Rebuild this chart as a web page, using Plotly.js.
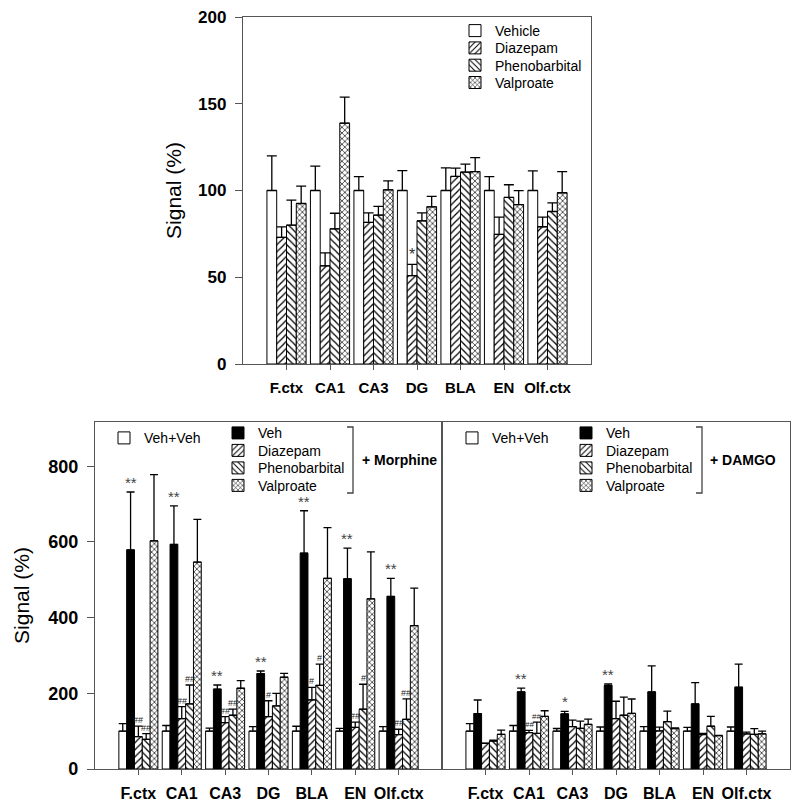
<!DOCTYPE html>
<html>
<head>
<meta charset="utf-8">
<script src="https://cdn.plot.ly/plotly-3.0.1.min.js"></script>
<style>html,body{margin:0;padding:0;background:#fff;}#chart{width:800px;height:806px;}</style>
</head>
<body>
<div id="chart"></div>
<script>
// ---------- data ----------
const categories = ['F.ctx', 'CA1', 'CA3', 'DG', 'BLA', 'EN', 'Olf.ctx'];

// Top panel (drug alone)
const topVehicle = [100, 100, 100, 100, 100, 100, 100];
const topVehicleErr = [20, 14, 8, 11.5, 13, 8, 11.3];
const topDiazepam = [73, 56.6, 81.6, 50.9, 108.1, 74.7, 79.1];
const topDiazepamErr = [6, 7.5, 5.5, 6.5, 4.8, 10, 5.5];
const topPheno = [80, 77.9, 85.8, 82.5, 110.6, 96, 87.9];
const topPhenoErr = [14.5, 9, 5, 4.6, 4.6, 7.3, 5];
const topValp = [92.5, 138.8, 100.4, 90.6, 110.9, 91.9, 98.7];
const topValpErr = [10, 15, 5.2, 6, 8, 8, 12.2];
const topDiazepamSig = ['', '', '', '*', '', '', ''];

// Bottom-left panel (+ Morphine)
const mVehVeh = [100, 100, 100, 100, 100, 100, 100];
const mVehVehErr = [20, 15, 8, 12, 13, 7.5, 12];
const mVeh = [579, 593.5, 211, 252, 570.5, 502.6, 456];
const mVehErr = [153, 102, 11, 7, 112, 81, 48];
const mDiazepam = [85.5, 133, 122.6, 138.4, 182.5, 110, 91];
const mDiazepamErr = [28, 32, 16, 42, 33, 14, 14];
const mPheno = [78.5, 172, 142, 166.7, 221, 158, 131.4];
const mPhenoErr = [15, 50, 16, 33, 56, 66, 54];
const mValp = [603, 546.7, 213.4, 242.5, 504, 449.7, 379];
const mValpErr = [175, 113, 20, 10, 134, 124, 99];
const mVehSig = ['**', '**', '**', '**', '**', '**', '**'];
const mDiazepamSig = ['##', '##', '##', '#', '#', '##', '##'];
const mPhenoSig = ['##', '##', '##', '', '#', '#', '##'];

// Bottom-right panel (+ DAMGO)
const dVehVeh = [100, 100, 100, 100, 100, 100, 100];
const dVehVehErr = [20, 15, 7, 11, 12, 10, 11];
const dVeh = [146.4, 203.7, 145.5, 221, 203.7, 172, 216];
const dVehErr = [36, 10, 7, 4, 69, 56, 61];
const dDiazepam = [68, 96, 112, 133, 100.5, 91, 92.6];
const dDiazepamErr = [0, 6, 17, 46, 10, 3, 5];
const dPheno = [74, 94, 107.6, 142, 125, 113, 91.7];
const dPhenoErr = [2, 30, 19, 48, 28, 26, 15];
const dValp = [91.7, 139, 118, 147, 106.7, 88, 93];
const dValpErr = [11, 15, 14, 38, 2, 1, 7];
const dVehSig = ['', '**', '*', '**', '', '', ''];
const dDiazepamSig = ['', '##', '', '', '', '', ''];
const dPhenoSig = ['', '##', '', '', '', '', ''];

// ---------- styles ----------
const FONT = 'Liberation Sans, Arial, sans-serif';
const BARGAP = 0.1;
const styles = {
  white: {color: 'white', line: {color: 'black', width: 1}},
  black: {color: 'black', line: {color: 'black', width: 1}},
  diaz: {color: 'white', line: {color: 'black', width: 1}, pattern: {shape: '/', fgcolor: 'black', bgcolor: 'white', size: 5, solidity: 0.25, fillmode: 'replace'}},
  pheno: {color: 'white', line: {color: 'black', width: 1}, pattern: {shape: '\\', fgcolor: 'black', bgcolor: 'white', size: 5, solidity: 0.25, fillmode: 'replace'}},
  valp: {color: 'white', line: {color: 'black', width: 1}, pattern: {shape: 'x', fgcolor: 'black', bgcolor: 'white', size: 4, solidity: 0.3, fillmode: 'replace'}}
};

function bar(name, y, err, style, xa, ya, legend, capw) {
  return {
    type: 'bar', name: name, x: categories, y: y,
    xaxis: xa, yaxis: ya, legend: legend, showlegend: true,
    marker: style,
    error_y: {type: 'data', symmetric: false, array: err, arrayminus: err.map(() => 0),
              color: 'black', thickness: 1.3, width: capw},
    hoverinfo: 'skip'
  };
}

const traces = [
  bar('Vehicle', topVehicle, topVehicleErr, styles.white, 'x', 'y', 'legend', 5),
  bar('Diazepam', topDiazepam, topDiazepamErr, styles.diaz, 'x', 'y', 'legend2', 5),
  bar('Phenobarbital', topPheno, topPhenoErr, styles.pheno, 'x', 'y', 'legend3', 5),
  bar('Valproate', topValp, topValpErr, styles.valp, 'x', 'y', 'legend4', 5),

  bar('Veh+Veh', mVehVeh, mVehVehErr, styles.white, 'x2', 'y2', 'legend5', 4),
  bar('Veh', mVeh, mVehErr, styles.black, 'x2', 'y2', 'legend6', 4),
  bar('Diazepam', mDiazepam, mDiazepamErr, styles.diaz, 'x2', 'y2', 'legend7', 4),
  bar('Phenobarbital', mPheno, mPhenoErr, styles.pheno, 'x2', 'y2', 'legend8', 4),
  bar('Valproate', mValp, mValpErr, styles.valp, 'x2', 'y2', 'legend9', 4),

  bar('Veh+Veh', dVehVeh, dVehVehErr, styles.white, 'x3', 'y3', 'legend10', 4),
  bar('Veh', dVeh, dVehErr, styles.black, 'x3', 'y3', 'legend11', 4),
  bar('Diazepam', dDiazepam, dDiazepamErr, styles.diaz, 'x3', 'y3', 'legend12', 4),
  bar('Phenobarbital', dPheno, dPhenoErr, styles.pheno, 'x3', 'y3', 'legend13', 4),
  bar('Valproate', dValp, dValpErr, styles.valp, 'x3', 'y3', 'legend14', 4)
];

// significance marks, positioned on the category scale
const annotations = [];
function addSig(marks, vals, errs, barIdx, nBars, xref, yref, size, color) {
  const w = (1 - BARGAP) / nBars;
  marks.forEach((m, i) => {
    if (!m) return;
    annotations.push({
      xref: xref, yref: yref, x: i + (barIdx - (nBars - 1) / 2) * w, y: vals[i] + errs[i],
      text: m, showarrow: false, xanchor: 'center', yanchor: 'bottom', yshift: -1,
      font: {family: FONT, size: size, color: color}
    });
  });
}
addSig(topDiazepamSig, topDiazepam, topDiazepamErr, 1, 4, 'x', 'y', 16, '#333');
addSig(mVehSig, mVeh, mVehErr, 1, 5, 'x2', 'y2', 15, '#444');
addSig(mDiazepamSig, mDiazepam, mDiazepamErr, 2, 5, 'x2', 'y2', 9, '#222');
addSig(mPhenoSig, mPheno, mPhenoErr, 3, 5, 'x2', 'y2', 9, '#222');
addSig(dVehSig, dVeh, dVehErr, 1, 5, 'x3', 'y3', 15, '#444');
addSig(dDiazepamSig, dDiazepam, dDiazepamErr, 2, 5, 'x3', 'y3', 8, '#222');
addSig(dPhenoSig, dPheno, dPhenoErr, 3, 5, 'x3', 'y3', 8, '#222');

annotations.push(
  {xref: 'paper', yref: 'paper', x: 360 / 800, y: 1 - 460 / 806, xanchor: 'left', yanchor: 'middle',
   text: '<b>+ Morphine</b>', showarrow: false, font: {family: FONT, size: 14, color: 'black'}},
  {xref: 'paper', yref: 'paper', x: 708 / 800, y: 1 - 460 / 806, xanchor: 'left', yanchor: 'middle',
   text: '<b>+ DAMGO</b>', showarrow: false, font: {family: FONT, size: 14, color: 'black'}}
);

function bracket(xv, xt) {
  const y1 = 1 - 427 / 806, y2 = 1 - 493 / 806, X = xv / 800, T = xt / 800;
  return {type: 'path', xref: 'paper', yref: 'paper',
          path: `M${T},${y1} L${X},${y1} L${X},${y2} L${T},${y2}`,
          line: {color: '#444', width: 1.3}};
}

const AXC = '#555';
function xAxis(domain, fs, anchor) {
  return {domain: domain, anchor: anchor, type: 'category', range: [-1, 7], showline: true, mirror: true,
          linecolor: AXC, linewidth: 1.2, ticks: 'outside', ticklen: 5, tickcolor: AXC, showgrid: false,
          zeroline: false, fixedrange: true, ticklabelstandoff: 5,
          tickfont: {family: FONT, size: fs, color: 'black', weight: 'bold'}};
}
function yAxis(domain, range, dtick, fs, anchor, labels) {
  return {domain: domain, anchor: anchor, range: range, dtick: dtick, showline: true, mirror: true,
          linecolor: AXC, linewidth: 1.2, ticks: labels ? 'outside' : '', ticklen: 7, tickcolor: AXC,
          showgrid: false, zeroline: false, showticklabels: labels, fixedrange: true, ticklabelstandoff: 5,
          tickfont: {family: FONT, size: fs, color: 'black', weight: 'bold'}};
}

// legend item placement: text left edge and row centre, in pixels
function legendAt(textX, rowY) {
  return {x: (textX - 40) / 800, y: 1 - rowY / 806, xanchor: 'left', yanchor: 'middle',
          bgcolor: 'rgba(0,0,0,0)', borderwidth: 0, font: {family: FONT, size: 14, color: 'black'}};
}

const topYD = [1 - 364 / 806, 1 - 17 / 806];
const botYD = [1 - 769 / 806, 1 - 422 / 806];

const layout = {
  width: 800, height: 806, margin: {l: 0, r: 0, t: 0, b: 0},
  paper_bgcolor: 'white', plot_bgcolor: 'white',
  font: {family: FONT, color: 'black'},
  barmode: 'group', bargap: BARGAP, bargroupgap: 0,
  xaxis: xAxis([243 / 800, 591 / 800], 15, 'y'),
  yaxis: Object.assign(yAxis(topYD, [0, 200], 50, 17, 'x', true),
    {title: {text: 'Signal (%)', font: {family: FONT, size: 21, color: 'black'}, standoff: 10}}),
  xaxis2: xAxis([95 / 800, 442 / 800], 16, 'y2'),
  yaxis2: Object.assign(yAxis(botYD, [0, 917], 200, 18, 'x2', true),
    {title: {text: 'Signal (%)', font: {family: FONT, size: 21, color: 'black'}, standoff: 12}}),
  xaxis3: xAxis([442 / 800, 790 / 800], 16, 'y3'),
  yaxis3: yAxis(botYD, [0, 917], 200, 18, 'x3', false),
  legend: legendAt(495, 31),
  legend2: legendAt(495, 48.3),
  legend3: legendAt(495, 65.6),
  legend4: legendAt(495, 82.9),
  legend5: legendAt(144, 438.3),
  legend6: legendAt(258, 433.3),
  legend7: legendAt(258, 450.8),
  legend8: legendAt(258, 468.3),
  legend9: legendAt(258, 485.8),
  legend10: legendAt(492, 438.3),
  legend11: legendAt(606, 433.3),
  legend12: legendAt(606, 450.8),
  legend13: legendAt(606, 468.3),
  legend14: legendAt(606, 485.8),
  annotations: annotations,
  shapes: [bracket(353, 347), bracket(702, 696)]
};

Plotly.newPlot('chart', traces, layout, {displayModeBar: false, staticPlot: true});
</script>
</body>
</html>
